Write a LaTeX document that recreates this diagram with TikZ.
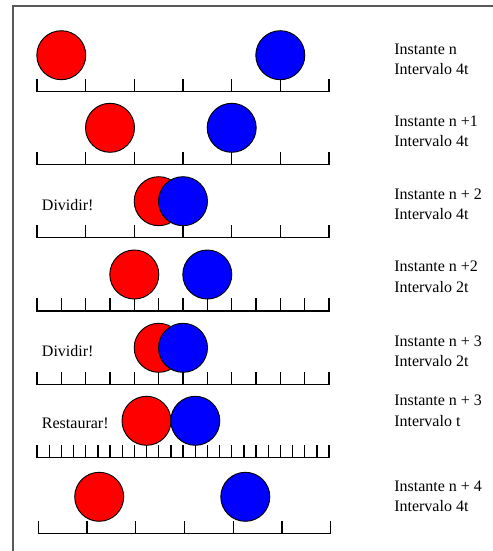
\documentclass[tikz,border=0pt]{standalone}
\usepackage{fontspec}
\setmainfont{Liberation Serif}
\newcommand\myruler[4]{% y, x0, x1, intervals
  \draw[rulerline] (#2,#1-12) -- (#2,#1) -- (#3,#1) -- (#3,#1-12);
  \foreach \k in {1,...,\numexpr#4-1\relax}
    \draw[rulerline] ({#2+(#3-#2)*\k/#4},#1) -- ++(0,-12);
}
\begin{document}
\begin{tikzpicture}[x=0.75pt,y=-0.75pt,
  ball/.style={circle,draw=black,line width=0.7pt,inner sep=0pt,minimum size=36.75pt},
  redball/.style={ball,fill=red},
  blueball/.style={ball,fill=blue},
  lbl/.style={anchor=base west,inner sep=0pt,font=\fontsize{12pt}{14pt}\selectfont},
  rulerline/.style={line width=1pt,black,line cap=rect}]
\useasboundingbox (0,0) rectangle (493,551);
\draw[line width=1.1pt,color=black!65] (493,6) -- (13,6) -- (13,551);

% Row 1
\myruler{91.7}{37}{329}{6}
\node[redball] (r1) at (61.3,55.2) {};
\node[blueball] (b1) at (280.3,55.2) {};
\node[lbl] (i1) at (394,54) {Instante n};
\node[lbl] (v1) at (394,74.3) {Intervalo 4t};

% Row 2
\myruler{164.3}{37}{329}{6}
\node[redball] (r2) at (110,127.8) {};
\node[blueball] (b2) at (231.7,127.8) {};
\node[lbl] (i2) at (394,126.7) {Instante n +1};
\node[lbl] (v2) at (394,146.7) {Intervalo 4t};

% Row 3
\myruler{237.7}{37}{329}{6}
\node[redball] (r3) at (158.7,201.2) {};
\node[blueball] (b3) at (183,201.2) {};
\node[lbl] (d3) at (41.7,210.5) {Dividir!};
\node[lbl] (i3) at (394,199.3) {Instante n + 2};
\node[lbl] (v3) at (394,219.8) {Intervalo 4t};

% Row 4
\myruler{311}{37}{329}{12}
\node[redball] (r4) at (134.3,274.5) {};
\node[blueball] (b4) at (207.3,274.5) {};
\node[lbl] (i4) at (394,271.7) {Instante n +2};
\node[lbl] (v4) at (394,292.7) {Intervalo 2t};

% Row 5
\myruler{384.3}{37}{329}{12}
\node[redball] (r5) at (158.7,347.8) {};
\node[blueball] (b5) at (183,347.8) {};
\node[lbl] (d5) at (41.7,356) {Dividir!};
\node[lbl] (i5) at (394,346) {Instante n + 3};
\node[lbl] (v5) at (394,366) {Intervalo 2t};

% Row 6
\myruler{457.3}{37}{329}{24}
\node[redball] (r6) at (146.5,420.8) {};
\node[blueball] (b6) at (195.3,420.8) {};
\node[lbl] (d6) at (41.7,428.5) {Restaurar!};
\node[lbl] (i6) at (394,405.3) {Instante n + 3};
\node[lbl] (v6) at (394,426) {Intervalo t};

% Row 7
\myruler{533.3}{38.3}{330.7}{6}
\node[redball] (r7) at (99.2,496.8) {};
\node[blueball] (b7) at (245.3,496.8) {};
\node[lbl] (i7) at (394,491.7) {Instante n + 4};
\node[lbl] (v7) at (394,511.7) {Intervalo 4t};
\end{tikzpicture}
\end{document}
